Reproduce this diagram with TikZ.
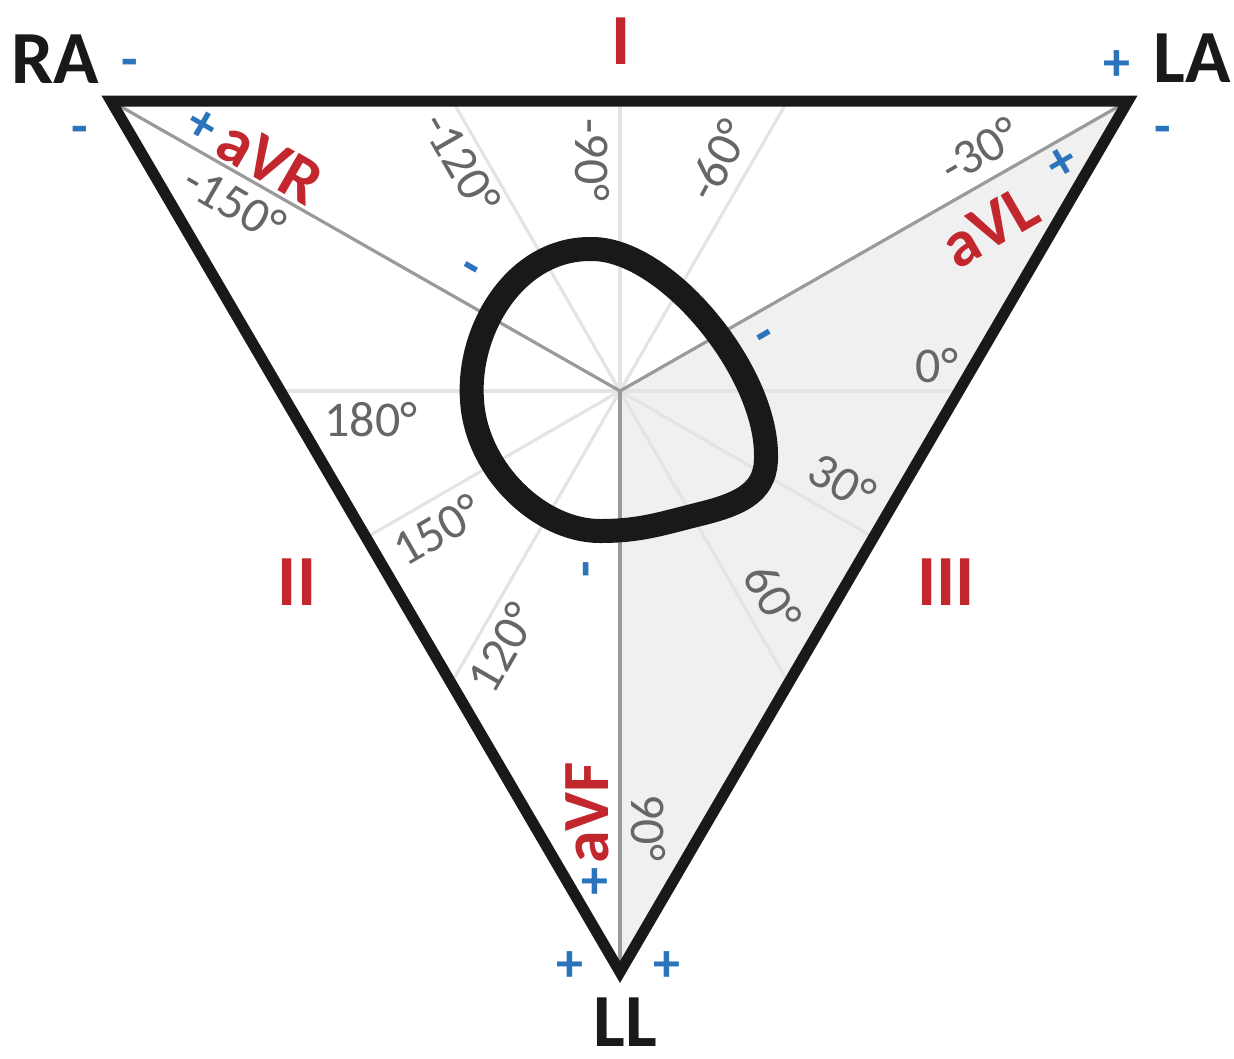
\documentclass[tikz,border=0pt]{standalone}
\usepackage{fontspec}
\setmainfont{Carlito}
\definecolor{lred}{HTML}{C1272D}
\definecolor{lblue}{HTML}{2B74BC}
\definecolor{lgray}{HTML}{E4E4E4}
\definecolor{dgray}{HTML}{9A9A9A}
\definecolor{tgray}{HTML}{666666}
\definecolor{fillg}{HTML}{F0F0F0}
\tikzset{
  spoke/.style={draw=lgray, line width=3.2},
  axisline/.style={draw=dgray, line width=3.2},
  frame/.style={draw=black!90, line width=11, line join=miter},
  loopline/.style={draw=black!90, line width=24},
  limb/.style={inner sep=0, text=black!90, font=\fontsize{75}{75}\selectfont\bfseries},
  lead/.style={inner sep=0, text=lred, font=\fontsize{72}{72}\selectfont\bfseries},
  avlab/.style={inner sep=0, text=lred, font=\fontsize{66}{66}\selectfont\bfseries},
  sign/.style={inner sep=0, text=lblue, font=\fontsize{54}{54}\selectfont\bfseries},
  deg/.style={inner sep=0, text=tgray, font=\fontsize{50}{50}\selectfont}
}
\begin{document}
\begin{tikzpicture}[x=1pt,y=-1pt]
\useasboundingbox (0,0) rectangle (1234,1058);
\coordinate (RA) at (111,101);
\coordinate (LA) at (1128,101);
\coordinate (LL) at (620,972);
\coordinate (O) at (620,391);
% shaded sector
\fill[fillg] (O) -- (LA) -- (LL) -- cycle;
% light spokes
\begin{scope}
  \clip (RA) -- (LA) -- (LL) -- cycle;
  \foreach \a in {0,30,60,120,150,180,240,270,300}
    \draw[spoke] (O) -- ++(\a:800);
\end{scope}
% lead axes
\draw[axisline] (O) -- (RA);
\draw[axisline] (O) -- (LA);
\draw[axisline] (O) -- (LL);
% triangle
\draw[frame] (RA) -- (LA) -- (LL) -- cycle;
% loop
\draw[loopline] (590,249) .. controls (665,247) and (766,370) .. (766,455)
  .. controls (767,490) and (745,503) .. (700,514)
  .. controls (660,524) and (640,531) .. (600,531)
  .. controls (540,531) and (476,470) .. (472,400)
  .. controls (467,330) and (515,249) .. cycle;
% limb labels
\node[limb] (tRA) at (55,59) {RA};
\node[limb] (tLA) at (1192,58) {LA};
\node[limb] (tLL) at (625,1022) {LL};
% lead labels
\node[lead] (tI) at (621,41) {I};
\node[lead] (tII) at (297,582) {II};
\node[lead] (tIII) at (946,582) {III};
\node[avlab, rotate=-30] (taVR) at (270,162) {aVR};
\node[avlab, rotate=30] (taVL) at (990,227) {aVL};
\node[avlab, rotate=90] (taVF) at (587,813) {aVF};
% polarity signs
\node[sign] (s1) at (130,68) {-};
\node[sign] (s2) at (80,135) {-};
\node[sign, rotate=-30] (s3) at (202,126) {+};
\node[sign] (s4) at (1117,66) {+};
\node[sign] (s5) at (1163,135) {-};
\node[sign, rotate=30] (s6) at (1063,164) {+};
\node[sign, rotate=-30] (s7) at (468,273) {-};
\node[sign, rotate=30] (s8) at (767,340) {-};
\node[sign, rotate=90] (s9) at (592,569) {-};
\node[sign] (s10) at (595,884) {+};
\node[sign] (s11) at (570,967) {+};
\node[sign] (s12) at (667,967) {+};
% degree labels
\node[deg] (d180) at (371,420) {180°};
\node[deg, rotate=30] (d150) at (437,530) {150°};
\node[deg, rotate=60] (d120) at (502,648) {120°};
\node[deg, rotate=-30] (dm150) at (235,203) {-150°};
\node[deg, rotate=-60] (dm120) at (462,163) {-120°};
\node[deg, rotate=-90] (dm90) at (592,160) {-90°};
\node[deg, rotate=62] (dm60) at (718,160) {-60°};
\node[deg, rotate=30] (dm30) at (980,150) {-30°};
\node[deg] (d0) at (937,366) {0°};
\node[deg, rotate=-30] (d30) at (842,482) {30°};
\node[deg, rotate=-60] (d60) at (773,597) {60°};
\node[deg, rotate=-90] (d90) at (648,828) {90°};
\end{tikzpicture}
\end{document}
